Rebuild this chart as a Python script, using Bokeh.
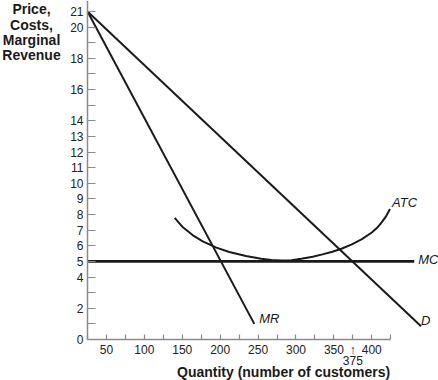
from bokeh.plotting import figure
from bokeh.models import FixedTicker, Label, Range1d
from bokeh.embed import file_html
from bokeh.resources import INLINE

# ---- data ----
quantity_d = [25, 465]
price_d = [21, 0.85]
quantity_mr = [25, 245]
price_mr = [21, 1.0]
quantity_mc = [25, 456]
price_mc = [5, 5]
quantity_atc = [140, 150, 164, 177, 195, 212, 234, 254, 268, 281, 294, 307,
                322, 335, 348, 360, 373, 387, 400, 407, 413, 419, 424]
price_atc = [7.78, 7.22, 6.67, 6.28, 5.88, 5.6, 5.35, 5.17, 5.09, 5.06, 5.08, 5.17,
             5.3, 5.45, 5.62, 5.81, 6.07, 6.42, 6.85, 7.15, 7.5, 7.9, 8.35]
x_ticks = list(range(25, 426, 25))
x_tick_labels = [50, 100, 150, 200, 250, 300, 350, 400]
y_ticks = list(range(0, 22))
y_tick_labels = [0, 2, 4, 5, 6, 7, 8, 9, 10, 11, 12, 13, 14, 16, 18, 20, 21]
marked_quantity = 375
y_title = ["Price,", "Costs,", "Marginal", "Revenue"]
x_title = "Quantity (number of customers)"

FONT = "Liberation Sans"
INK = "#1a1a1a"
AXIS = "#8a8a8a"
TICK_TEXT = "#222222"

# axis origin (quantity 25, price 0) sits at pixel (87, 339)
p = figure(width=438, height=380, x_range=Range1d(-89.8, 488), y_range=Range1d(-2.625, 21.7),
           output_backend="svg", toolbar_location=None,
           min_border_left=0, min_border_right=0, min_border_top=0, min_border_bottom=0)
p.outline_line_color = None
p.grid.visible = False
p.background_fill_color = "white"

x_over = {t: (str(t) if t in x_tick_labels else "") for t in x_ticks}
x_over[marked_quantity] = "\u2191"
p.xaxis.ticker = FixedTicker(ticks=x_ticks)
p.xaxis.major_label_overrides = x_over
p.xaxis.bounds = (25, 425)
p.xaxis.fixed_location = 0
p.yaxis.ticker = FixedTicker(ticks=y_ticks)
p.yaxis.major_label_overrides = {t: (str(t) if t in y_tick_labels else "") for t in y_ticks}
p.yaxis.bounds = (0, 21.7)
p.yaxis.fixed_location = 25
for ax in (p.xaxis, p.yaxis):
    ax.axis_line_color = AXIS
    ax.axis_line_width = 1.5
    ax.major_tick_line_color = AXIS
    ax.major_tick_line_width = 1.2
    ax.minor_tick_line_color = None
    ax.major_tick_out = 0
    ax.major_label_text_font = FONT
    ax.major_label_text_font_size = "12px"
    ax.major_label_text_color = TICK_TEXT
p.xaxis.major_tick_in = 5
p.yaxis.major_tick_in = 8
p.xaxis.major_label_standoff = 4
p.yaxis.major_label_standoff = 4

# curves
p.line(quantity_mc, price_mc, line_color=INK, line_width=2.8)
p.line(quantity_d, price_d, line_color=INK, line_width=2)
p.line(quantity_mr, price_mr, line_color=INK, line_width=2)
p.line(quantity_atc, price_atc, line_color=INK, line_width=2)


def curve_label(text, x, y, dx, dy):
    p.add_layout(Label(x=x, y=y, x_offset=dx, y_offset=dy, text=text,
                       text_font=FONT, text_font_style="italic", text_font_size="13px",
                       text_color=INK, text_baseline="middle", text_align="left"))

curve_label("ATC", quantity_atc[-1], price_atc[-1], 2, 7)
curve_label("MC", quantity_mc[-1], price_mc[-1], 4, 2)
curve_label("MR", quantity_mr[-1], price_mr[-1], 5, 5)
curve_label("D", quantity_d[-1], price_d[-1], 0, 6)

# marked quantity under the axis
p.add_layout(Label(x=marked_quantity, y=-1.34, text=str(marked_quantity), text_font=FONT,
                   text_font_size="12px", text_color=TICK_TEXT,
                   text_align="center", text_baseline="middle"))

# titles
p.add_layout(Label(x=283.6, y=-2.11, text=x_title, text_font=FONT, text_font_style="bold",
                   text_font_size="14px", text_color=INK, text_align="center",
                   text_baseline="middle"))
for i, line in enumerate(y_title):
    p.add_layout(Label(x=-48.9, y=21.13 - i * 0.98, text=line, text_font=FONT,
                       text_font_style="bold", text_font_size="14px", text_color=INK,
                       text_align="center", text_baseline="middle"))

open("out.html", "w").write(file_html(p, INLINE))
